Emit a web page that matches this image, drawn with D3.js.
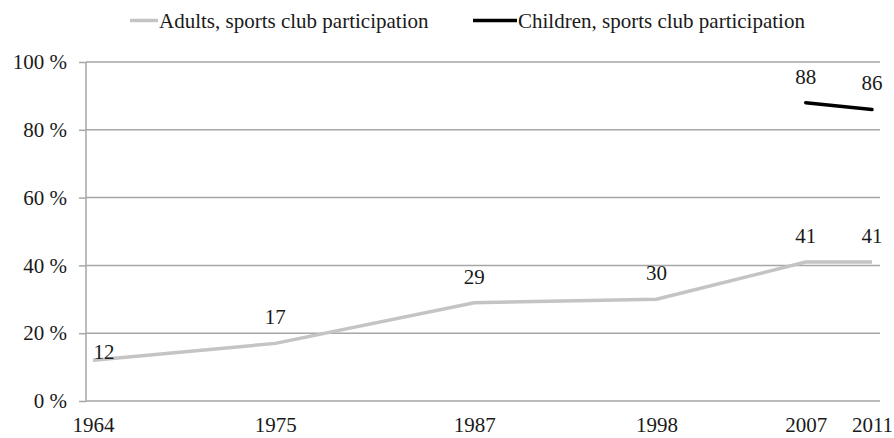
<!DOCTYPE html>
<html>
<head>
<meta charset="utf-8">
<script src="https://cdn.jsdelivr.net/npm/d3@7"></script>
<style>
  html, body { margin: 0; padding: 0; background: #fff; }
  svg { display: block; }
  text { font-family: "Liberation Serif", "Times New Roman", serif; fill: #1a1a1a; }
</style>
</head>
<body>
<svg id="chart" width="894" height="438"></svg>
<script>
// Survey years and participation shares (%)
const years = [1964, 1975, 1987, 1998, 2007, 2011];
const adultsValues = [12, 17, 29, 30, 41, 41];
const childrenYears = [2007, 2011];
const childrenValues = [88, 86];
const yTicks = [0, 20, 40, 60, 80, 100];
const seriesNames = ["Adults, sports club participation", "Children, sports club participation"];
const seriesColors = ["#c4c4c4", "#000000"];

const svg = d3.select("#chart");
const plot = { left: 86, right: 880, top: 62, bottom: 401 };

const x = d3.scaleLinear().domain([1964, 2011]).range([93, 872]);
const y = d3.scaleLinear().domain([0, 100]).range([plot.bottom, plot.top]);

const gridColor = "#a6a6a6";
const fontFamily = '"Liberation Serif", "Times New Roman", serif';

// horizontal gridlines + y axis ticks/labels
const yAxis = d3.axisLeft(y)
  .tickValues(yTicks)
  .tickSize(7)
  .tickPadding(12)
  .tickFormat(d => d + " %");
const gy = svg.append("g").attr("transform", `translate(${plot.left},0)`).call(yAxis);
gy.select(".domain").remove();
gy.selectAll(".tick line").attr("stroke", gridColor).attr("stroke-width", 1.5);
gy.selectAll(".tick text").attr("font-size", 21).attr("fill", "#1a1a1a")
  .style("font-family", fontFamily);

svg.append("g").selectAll("line").data(yTicks).join("line")
  .attr("x1", plot.left).attr("x2", plot.right)
  .attr("y1", d => y(d)).attr("y2", d => y(d))
  .attr("stroke", gridColor).attr("stroke-width", 1.5);

// vertical axis line
svg.append("line")
  .attr("x1", plot.left).attr("x2", plot.left)
  .attr("y1", plot.top).attr("y2", plot.bottom)
  .attr("stroke", gridColor).attr("stroke-width", 1.5);

// x axis labels (survey years)
const xAxis = d3.axisBottom(x).tickValues(years).tickSize(0).tickPadding(16).tickFormat(d3.format("d"));
const gx = svg.append("g").attr("transform", `translate(0,${plot.bottom})`).call(xAxis);
gx.select(".domain").remove();
gx.selectAll(".tick text").attr("font-size", 21).attr("fill", "#1a1a1a")
  .style("font-family", fontFamily);

// lines
const line = d3.line().x(d => x(d[0])).y(d => y(d[1]));
const adults = years.map((yr, i) => [yr, adultsValues[i]]);
const children = childrenYears.map((yr, i) => [yr, childrenValues[i]]);

svg.append("path").datum(adults)
  .attr("d", line).attr("fill", "none")
  .attr("stroke", seriesColors[0]).attr("stroke-width", 3.5)
  .attr("stroke-linejoin", "round");
svg.append("path").datum(children)
  .attr("d", line).attr("fill", "none")
  .attr("stroke", seriesColors[1]).attr("stroke-width", 3.5)
  .attr("stroke-linecap", "round").attr("stroke-linejoin", "round");

// value labels above each point; the first one sits beside the axis instead
function addLabels(data) {
  svg.append("g").selectAll("text").data(data).join("text")
    .attr("x", d => x(d[0]) + (d[0] === 1964 ? 11 : 0))
    .attr("y", d => y(d[1]) + (d[0] === 1964 ? -1 : -19))
    .attr("text-anchor", "middle")
    .attr("font-size", 21)
    .text(d => d[1]);
}
addLabels(adults);
addLabels(children);

// legend
const legend = [
  { name: seriesNames[0], color: seriesColors[0], x1: 130, x2: 158 },
  { name: seriesNames[1], color: seriesColors[1], x1: 473, x2: 517 }
];
const lg = svg.append("g").selectAll("g").data(legend).join("g");
lg.append("line")
  .attr("x1", d => d.x1).attr("x2", d => d.x2)
  .attr("y1", 20.5).attr("y2", 20.5)
  .attr("stroke", d => d.color).attr("stroke-width", 3.5);
lg.append("text")
  .attr("x", d => d.x2 + 1).attr("y", 28)
  .attr("font-size", 21)
  .text(d => d.name);
</script>
</body>
</html>
